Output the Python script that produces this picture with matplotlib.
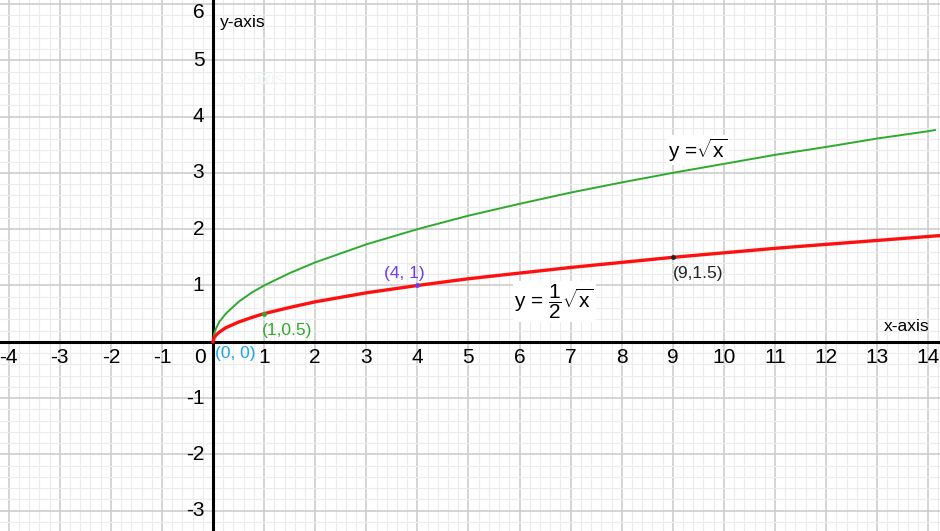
import matplotlib
matplotlib.use("Agg")
import matplotlib.pyplot as plt
from matplotlib.ticker import MultipleLocator

plt.rcParams['font.family'] = ['Liberation Sans', 'DejaVu Sans']
plt.rcParams['mathtext.fontset'] = 'custom'
plt.rcParams['mathtext.rm'] = 'Liberation Sans'
plt.rcParams['mathtext.it'] = 'Liberation Sans'

# curve samples
curve_x = [0, 0.02, 0.06, 0.12, 0.25, 0.5, 0.75, 1, 1.5, 2, 3, 4, 5, 6, 7, 8, 9, 10, 11, 12, 13, 14, 14.13, 14.3]
sqrt_y = [0, 0.14, 0.24, 0.35, 0.5, 0.71, 0.87, 1, 1.22, 1.41, 1.73, 2, 2.24, 2.45, 2.65, 2.83, 3, 3.16, 3.32, 3.46, 3.61, 3.74, 3.76, None]
half_y = [0, 0.07, 0.12, 0.17, 0.25, 0.35, 0.43, 0.5, 0.61, 0.71, 0.87, 1, 1.12, 1.22, 1.32, 1.41, 1.5, 1.58, 1.66, 1.73, 1.80, 1.87, 1.88, 1.89]

x_ticks = [-4, -3, -2, -1, 1, 2, 3, 4, 5, 6, 7, 8, 9, 10, 11, 12, 13, 14]
y_ticks = [1, 2, 3, 4, 5, 6, -1, -2, -3]

points = [(0, 0), (1, 0.5), (4, 1), (9, 1.5)]
point_labels = ['(0, 0)', '(1,0.5)', '(4, 1)', '(9,1.5)']
point_colors = ['#1ca3ec', '#2eaa2e', '#6a3df0', '#222222']

fig = plt.figure(figsize=(9.4, 5.31), dpi=100)
ax = fig.add_axes([0, 0, 1, 1])
ax.set_xlim(-4.17, 14.23)
ax.set_ylim(-3.36, 6.07)

# grid paper
ax.xaxis.set_major_locator(MultipleLocator(1))
ax.yaxis.set_major_locator(MultipleLocator(1))
ax.xaxis.set_minor_locator(MultipleLocator(0.2))
ax.yaxis.set_minor_locator(MultipleLocator(0.2))
ax.grid(which='major', color='#cdcdcd', linewidth=1.2)
ax.grid(which='minor', color='#ececec', linewidth=0.8)
ax.tick_params(which='both', length=0, labelbottom=False, labelleft=False)
for s in ax.spines.values():
    s.set_visible(False)

# main axes
ax.axhline(0, color='black', linewidth=2.2, zorder=3)
ax.axvline(0, color='black', linewidth=2.2, zorder=3)

# curves
gx = [x for x, y in zip(curve_x, sqrt_y) if y is not None]
gy = [y for y in sqrt_y if y is not None]
ax.plot(gx, gy, color='#2eaa2e', linewidth=1.4, zorder=4)
ax.plot(curve_x, half_y, color='#ff1010', linewidth=2.4, zorder=5)

# tick labels
for v in x_ticks:
    ax.text(v, -0.28, str(v), ha='center', va='center', fontsize=15, zorder=6)
ax.text(-0.26, -0.28, '0', ha='center', va='center', fontsize=15, zorder=6)
for v in y_ticks:
    ax.text(-0.17, min(v, 5.85), str(v), ha='right', va='center', fontsize=15, zorder=6)

# axis names
ax.text(0.14, 5.67, 'y-axis', ha='left', va='center', fontsize=12.5)
ax.text(0.5, 4.66, 'y-axis', ha='left', va='center', fontsize=12.5, color='#f0f7f7')
ax.text(13.13, 0.27, 'x-axis', ha='left', va='center', fontsize=12.5)

# marked points
for (px, py), lab, c in zip(points, point_labels, point_colors):
    if (px, py) != (0, 0):
        ax.plot(px, py, 'o', color=c, markersize=2.5, zorder=6)
ax.text(0.04, -0.2, point_labels[0], color=point_colors[0], ha='left', va='center', fontsize=12.5, zorder=6)
ax.text(0.95, 0.34, point_labels[1], color=point_colors[1], ha='left', va='top', fontsize=12.5, zorder=6)
ax.text(3.75, 1.08, point_labels[2], color=point_colors[2], ha='center', va='bottom', fontsize=12.5, zorder=6)
ax.text(9.0, 1.35, point_labels[3], color=point_colors[3], ha='left', va='top', fontsize=12.5, zorder=6)

# equations
ax.text(8.9, 3.4, r'y =$\sqrt{x}$', ha='left', va='center', fontsize=15,
        bbox=dict(facecolor='white', edgecolor='none', pad=1))
ax.text(5.9, 0.72, r'y = $\dfrac{1}{2}\sqrt{x}$', ha='left', va='center', fontsize=15,
        bbox=dict(facecolor='white', edgecolor='none', pad=1))

fig.savefig('out.png', dpi=100)
